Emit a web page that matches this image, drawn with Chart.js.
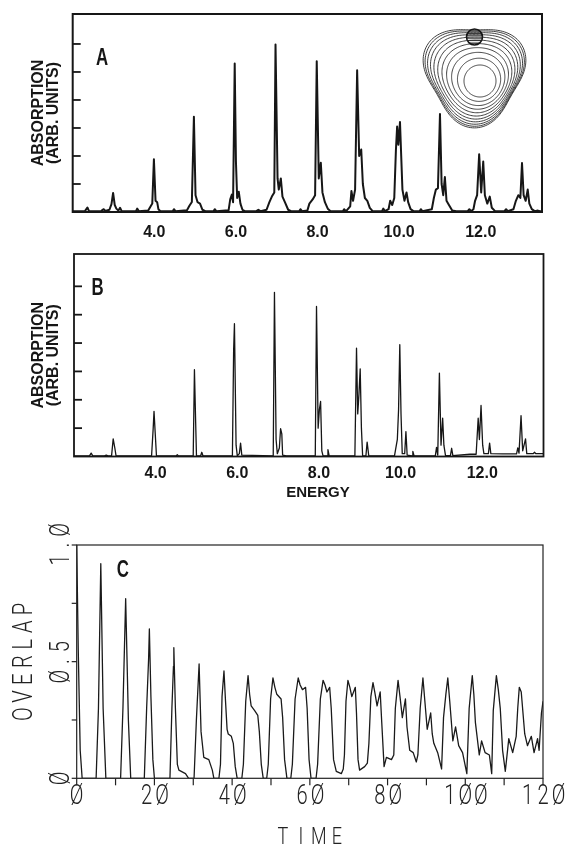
<!DOCTYPE html>
<html><head><meta charset="utf-8">
<script src="https://cdn.jsdelivr.net/npm/chart.js@4.4.0/dist/chart.umd.min.js"></script>
<style>
html,body{margin:0;padding:0;background:#fff;}
#wrap{position:relative;width:570px;height:846px;overflow:hidden;background:#fff;}
canvas{position:absolute;left:0;}
</style></head><body>
<div id="wrap">
<canvas id="cA" width="570" height="250" style="top:0px"></canvas>
<canvas id="cB" width="570" height="255" style="top:250px"></canvas>
<canvas id="cC" width="570" height="341" style="top:505px"></canvas>
</div>
<script>
// ---------- Panel A : absorption spectrum (with inset) ----------
const energyA = [
 2.00,2.30,2.36,2.40,2.70,2.76,2.80,2.90,2.95,2.99,3.03,3.07,3.12,3.16,3.20,
 3.55,3.58,3.62,3.85,3.90,3.95,3.99,4.03,4.07,4.10,4.15,
 4.45,4.48,4.52,4.80,4.86,4.92,4.97,5.01,5.06,5.12,5.18,5.25,
 5.45,5.48,5.52,5.82,5.86,5.90,5.93,5.97,6.00,6.03,6.07,6.11,6.16,6.22,
 6.50,6.55,6.60,6.75,6.82,6.88,6.94,6.97,7.02,7.05,7.10,7.14,7.20,7.28,7.35,
 7.55,7.58,7.62,7.75,7.80,7.88,7.94,7.98,8.03,8.08,8.12,8.18,8.25,8.32,
 8.62,8.65,8.70,8.80,8.83,8.87,8.92,8.97,9.02,9.07,9.11,9.16,9.22,9.28,9.35,
 9.58,9.61,9.65,9.74,9.78,9.83,9.88,9.92,9.95,9.98,10.02,10.05,10.08,10.13,10.18,10.22,10.28,10.35,
 10.50,10.53,10.57,10.80,10.85,10.90,10.95,11.00,11.04,11.08,11.12,11.16,11.22,11.30,11.40,
 11.68,11.72,11.76,11.82,11.86,11.91,11.96,12.01,12.06,12.10,12.16,12.22,12.27,12.35,
 12.58,12.62,12.66,12.80,12.86,12.92,12.97,13.01,13.05,13.10,13.15,13.19,13.25,13.32,13.40,13.45,13.50
];
const absorbA = [
 0.03,0.03,0.16,0.03,0.04,0.10,0.04,0.08,0.28,0.68,0.25,0.12,0.05,0.15,0.03,
 0.03,0.12,0.03,0.05,0.18,0.30,1.88,0.40,0.35,0.10,0.03,
 0.03,0.10,0.03,0.06,0.22,0.36,3.40,0.60,0.35,0.30,0.08,0.03,
 0.03,0.10,0.03,0.06,0.45,0.62,0.35,5.30,1.80,0.50,0.72,0.30,0.08,0.03,
 0.03,0.08,0.03,0.08,0.35,0.55,0.70,5.98,1.20,0.80,1.20,0.55,0.35,0.08,0.03,
 0.03,0.10,0.03,0.05,0.30,0.45,0.60,5.38,1.20,1.76,0.70,0.35,0.12,0.03,
 0.03,0.10,0.03,0.20,0.75,0.40,0.80,5.06,2.00,2.23,1.00,0.50,0.40,0.15,0.03,
 0.03,0.12,0.03,0.10,0.40,0.25,0.50,2.20,3.05,2.40,3.21,2.00,0.80,0.40,0.70,0.35,0.10,0.03,
 0.03,0.10,0.03,0.10,0.50,0.80,0.85,3.50,1.00,0.60,1.25,0.40,0.25,0.05,0.03,
 0.03,0.10,0.03,0.10,0.40,0.60,2.06,0.70,1.80,0.60,0.30,0.55,0.15,0.03,
 0.03,0.10,0.03,0.10,0.40,0.60,0.50,1.75,0.60,0.40,0.80,0.30,0.10,0.03,0.05,0.03,0.03
];

// ---------- Panel B : absorption spectrum ----------
const energyB = [
 2.00,2.38,2.42,2.46,2.75,2.79,2.83,2.92,2.96,3.00,3.03,
 3.90,3.94,3.96,3.99,4.02,4.50,4.53,4.56,
 4.92,4.95,4.98,5.00,5.10,5.13,5.16,
 5.88,5.91,5.93,5.97,6.00,6.05,6.08,6.11,
 6.88,6.91,6.95,6.98,7.03,7.06,7.09,7.11,7.20,
 7.91,7.94,7.98,8.01,8.04,8.07,8.10,8.20,8.22,8.25,
 8.88,8.92,8.95,8.98,9.01,9.04,9.07,9.15,9.18,9.22,
 9.85,9.92,9.95,9.98,10.01,10.04,10.10,10.13,10.16,10.28,10.30,10.33,
 10.85,10.88,10.91,10.95,10.99,11.03,11.06,11.10,11.22,11.25,11.28,
 11.70,11.85,11.90,11.93,11.97,12.01,12.04,12.15,12.18,12.21,12.50,
 12.84,12.87,12.90,12.95,12.99,13.06,13.09,13.25,13.28,13.31,13.50
];
const absorbB = [
 0.02,0.02,0.12,0.02,0.02,0.05,0.02,0.02,0.62,0.30,0.02,
 0.02,1.00,1.59,0.80,0.02,0.02,0.06,0.02,
 0.02,3.06,1.20,0.02,0.02,0.15,0.02,
 0.02,3.74,4.68,0.40,0.02,0.10,0.47,0.05,
 0.02,5.79,0.60,0.10,0.30,0.98,0.80,0.05,0.02,
 0.02,5.29,1.00,1.65,1.94,0.20,0.02,0.02,0.24,0.02,
 0.02,3.82,1.50,2.20,3.09,1.00,0.02,0.02,0.51,0.02,
 0.02,0.60,1.65,3.94,1.50,0.10,0.10,0.88,0.05,0.02,0.18,0.02,
 0.02,0.32,0.05,2.94,0.40,1.35,0.40,0.03,0.03,0.29,0.03,
 0.08,0.08,1.35,0.60,1.80,0.40,0.10,0.10,0.47,0.10,0.09,
 0.09,0.30,0.12,1.44,0.20,0.62,0.10,0.10,0.15,0.10,0.10
];

// ---------- Panel C : overlap vs time ----------
const timeC = [
 0,0.4,0.9,1.4,5.0,5.6,6.2,6.8,7.5,
 11.3,11.9,12.6,13.3,13.9,17.4,18.0,18.5,18.7,19.1,19.6,20.0,
 24.0,24.5,24.9,25.0,25.4,25.9,26.3,28.0,28.8,
 30.2,30.8,31.5,32.0,32.7,34.0,34.9,35.3,
 36.6,37.0,37.4,37.9,38.3,38.7,39.0,39.8,40.3,40.8,41.3,
 42.5,42.9,43.5,44.1,44.5,44.9,45.8,46.6,47.0,47.5,48.0,
 48.9,49.3,49.9,50.5,51.0,51.5,52.6,53.0,53.5,54.1,
 55.1,55.5,56.2,57.0,57.5,58.1,58.9,59.3,59.8,60.3,
 61.6,62.0,62.7,63.4,63.9,64.4,65.1,65.5,66.1,66.8,68.1,68.6,
 68.9,69.3,69.8,70.3,70.8,71.7,72.0,72.4,72.8,74.1,74.8,
 75.2,75.7,76.25,76.7,77.3,78.1,78.5,79.1,79.7,81.0,81.6,
 82.0,82.7,83.2,83.8,84.6,85.0,85.7,86.6,87.4,87.8,
 88.4,89.1,89.6,90.2,91.1,91.5,91.9,92.9,93.9,
 94.4,95.0,95.5,96.0,96.8,97.5,98.3,99.3,100.4,
 101.0,101.8,102.2,102.6,103.6,104.2,105.1,106.2,106.8,
 107.2,108.0,108.5,109.0,109.6,110.3,111.2,112.2,113.1,
 113.5,113.9,114.4,115.3,116.0,117.0,117.7,118.6,119.0,119.6,120.0
];
const overlapC = [
 1.00,0.55,0.12,0,0,0.30,0.92,0.30,0,
 0,0.30,0.77,0.25,0,0,0.30,0.51,0.64,0.35,0.08,0,
 0,0.30,0.48,0.56,0.30,0.06,0.035,0.02,0,
 0,0.25,0.49,0.20,0.09,0.08,0.035,0,
 0,0.06,0.35,0.46,0.33,0.21,0.19,0.18,0.15,0.05,0,
 0,0.06,0.33,0.44,0.36,0.31,0.29,0.27,0.20,0.06,0,
 0,0.06,0.34,0.43,0.39,0.36,0.34,0.26,0.08,0,
 0,0.06,0.34,0.43,0.40,0.38,0.39,0.30,0.08,0,
 0,0.06,0.34,0.42,0.40,0.37,0.39,0.30,0.08,0.03,0.02,0.04,
 0.10,0.33,0.42,0.39,0.35,0.39,0.28,0.08,0.035,0.05,0.065,
 0.15,0.35,0.41,0.37,0.31,0.37,0.24,0.05,0.09,0.08,0.10,
 0.30,0.42,0.35,0.26,0.34,0.22,0.12,0.11,0.07,0.10,
 0.30,0.43,0.33,0.21,0.28,0.19,0.15,0.11,0.04,
 0.26,0.36,0.43,0.33,0.16,0.22,0.14,0.11,0.02,
 0.30,0.44,0.36,0.24,0.10,0.16,0.11,0.10,0.02,
 0.29,0.44,0.38,0.30,0.12,0.03,0.17,0.11,0.18,
 0.30,0.39,0.37,0.19,0.14,0.18,0.11,0.17,0.12,0.28,0.33
];

// ---------- ticks / labels ----------
const energyTickValues = [4, 6, 8, 10, 12];
const energyTickLabels = ['4.0', '6.0', '8.0', '10.0', '12.0'];
const absorbTickValues = [1, 2, 3, 4, 5, 6];
const timeTickValues = [0,10,20,30,40,50,60,70,80,90,100,110,120];
const timeLabelValues = [0, 20, 40, 60, 80, 100, 120];
const timeTickLabels = ['Ø', '2Ø', '4Ø', '6Ø', '8Ø', '1ØØ', '12Ø'];
const overlapTickValues = [0, 0.25, 0.5, 0.75, 1];
const overlapLabelValues = [0, 0.5, 1];
const overlapTickLabels = ['Ø', 'Ø.5', '1.Ø'];
const insetRadii = [49, 47.6, 45.8, 43.6, 41, 38, 34.6, 30.8, 26.6, 21.6, 16];

const INK = '#161616';
const BOLD = '"Liberation Sans", Arial, sans-serif';
const THIN = 'Roboto, "DejaVu Sans", sans-serif';

function txt(ctx, s, x, y, o) {
  ctx.save();
  ctx.translate(x, y);
  if (o.rot) ctx.rotate(o.rot);
  const sx = o.sx || 1;
  ctx.scale(sx, 1);
  ctx.font = o.font;
  ctx.fillStyle = o.color || INK;
  ctx.textAlign = 'center';
  ctx.textBaseline = 'alphabetic';
  const dy = o.cap / 2;
  if (o.adv) {
    const ch = Array.from(s), n = ch.length;
    ch.forEach((c, i) => ctx.fillText(c, ((i - (n - 1) / 2) * o.adv) / sx, dy));
  } else {
    ctx.fillText(s, 0, dy);
  }
  ctx.restore();
}

function spectrumDecor(letter, letterDX, letterDY, labelDY, boxW, withInset, withEnergy) {
  return {
    id: 'decor' + letter,
    afterDraw(chart) {
      const {ctx, chartArea: ca, scales: {x, y}} = chart;
      ctx.save();
      ctx.strokeStyle = INK;
      ctx.lineWidth = boxW;
      ctx.strokeRect(ca.left, ca.top, ca.right - ca.left, ca.bottom - ca.top);
      ctx.lineWidth = 1.8;
      absorbTickValues.forEach(v => {
        const py = y.getPixelForValue(v);
        ctx.beginPath(); ctx.moveTo(ca.left, py); ctx.lineTo(ca.left + 8, py); ctx.stroke();
      });
      energyTickValues.forEach((v, i) => {
        txt(ctx, energyTickLabels[i], x.getPixelForValue(v), ca.bottom + labelDY,
            {font: 'bold 16px ' + BOLD, cap: 11.5});
      });
      const cy = (ca.top + ca.bottom) / 2;
      txt(ctx, 'ABSORPTION', 37, cy, {font: 'bold 16px ' + BOLD, cap: 11.5, rot: -Math.PI / 2});
      txt(ctx, '(ARB. UNITS)', 52.5, cy, {font: 'bold 16px ' + BOLD, cap: 11.5, rot: -Math.PI / 2});
      txt(ctx, letter, ca.left + letterDX, ca.top + letterDY, {font: 'bold 24px ' + BOLD, cap: 17, sx: 0.7});
      if (withEnergy) {
        txt(ctx, 'ENERGY', x.getPixelForValue(8) - 1, ca.bottom + 35, {font: 'bold 15px ' + BOLD, cap: 11});
      }
      if (withInset) {
        const outer = insetRadii[0], inner = insetRadii[insetRadii.length - 1];
        ctx.lineWidth = 0.9;
        ctx.strokeStyle = '#2a2a2a';
        insetRadii.forEach(R => {
          const f = (R - inner) / (outer - inner);
          const a = 0.12 * Math.pow(f, 1.6);
          const cx = ca.right - 62 - 5.5 * f;
          const cyy = ca.top + 67 - 8 * f;
          ctx.beginPath();
          for (let k = 0; k <= 180; k++) {
            const th = (k / 180) * Math.PI * 2;
            const r = R * (1 + a * Math.cos(3 * (th - Math.PI / 2)));
            const px = cx + r * Math.cos(th), py = cyy + r * Math.sin(th);
            if (k === 0) ctx.moveTo(px, py); else ctx.lineTo(px, py);
          }
          ctx.closePath();
          ctx.stroke();
        });
        const ccx = ca.right - 67.5, ccy = ca.top + 23, cr = 8;
        ctx.lineWidth = 1.0;
        for (let d = -6; d <= 6; d += 2.4) {
          const hw = Math.sqrt(cr * cr - d * d);
          ctx.beginPath(); ctx.moveTo(ccx - hw, ccy + d); ctx.lineTo(ccx + hw, ccy + d); ctx.stroke();
        }
        ctx.lineWidth = 1.6;
        ctx.strokeStyle = INK;
        ctx.beginPath();
        ctx.arc(ccx, ccy, cr, 0, Math.PI * 2);
        ctx.stroke();
      }
      ctx.restore();
    }
  };
}

function spectrumChart(id, ex, ab, ymax, padTop, yW, padR, xH, lw, decor) {
  return new Chart(document.getElementById(id), {
    type: 'line',
    data: {datasets: [{
      data: ex.map((e, i) => ({x: e, y: ab[i]})),
      borderColor: INK, borderWidth: lw, pointRadius: 0, tension: 0,
      borderJoinStyle: 'round', borderCapStyle: 'round', fill: false
    }]},
    options: {
      responsive: false, animation: false, events: [],
      layout: {autoPadding: false, padding: {left: 0, right: padR, top: padTop, bottom: 0}},
      plugins: {legend: {display: false}, tooltip: {enabled: false}, title: {display: false}},
      scales: {
        x: {type: 'linear', min: 2, max: 13.5, grid: {display: false}, border: {display: false},
            ticks: {display: false}, afterFit: s => { s.height = xH; }},
        y: {type: 'linear', min: 0, max: ymax, grid: {display: false}, border: {display: false},
            ticks: {display: false}, afterFit: s => { s.width = yW; }}
      }
    },
    plugins: [decor]
  });
}

spectrumChart('cA', energyA, absorbA, 7.07, 14, 72.7, 28, 38, 2.0,
  spectrumDecor('A', 29.3, 42, 19, 2.0, true, false));
spectrumChart('cB', energyB, absorbB, 7.14, 4, 74, 26.5, 48.5, 1.3,
  spectrumDecor('B', 23.6, 32, 16, 1.8, false, true));

// ---------- Panel C ----------
const decorC = {
  id: 'decorC',
  afterDraw(chart) {
    const {ctx, chartArea: ca, scales: {x, y}} = chart;
    ctx.save();
    ctx.strokeStyle = '#222';
    ctx.lineWidth = 1.2;
    ctx.strokeRect(ca.left, ca.top, ca.right - ca.left, ca.bottom - ca.top);
    timeTickValues.forEach(v => {
      const px = x.getPixelForValue(v);
      ctx.beginPath(); ctx.moveTo(px, ca.bottom); ctx.lineTo(px, ca.bottom + 7); ctx.stroke();
    });
    overlapTickValues.forEach(v => {
      const py = y.getPixelForValue(v);
      ctx.beginPath(); ctx.moveTo(ca.left - 5, py); ctx.lineTo(ca.left, py); ctx.stroke();
    });
    const f = '300 28px ' + THIN;
    timeLabelValues.forEach((v, i) => {
      txt(ctx, timeTickLabels[i], x.getPixelForValue(v), ca.bottom + 16, {font: f, cap: 20, sx: 0.72, adv: 15.5, color: '#222'});
    });
    overlapLabelValues.forEach((v, i) => {
      txt(ctx, overlapTickLabels[i], 59, y.getPixelForValue(v), {font: f, cap: 20, sx: 0.72, adv: 15, rot: -Math.PI / 2, color: '#222'});
    });
    txt(ctx, 'OVERLAP', 22, (ca.top + ca.bottom) / 2, {font: f, cap: 20, sx: 0.72, adv: 17.5, rot: -Math.PI / 2, color: '#222'});
    txt(ctx, 'TIME', (ca.left + ca.right) / 2, ca.bottom + 57, {font: '300 24px ' + THIN, cap: 17, sx: 0.75, adv: 18, color: '#222'});
    txt(ctx, 'C', ca.left + 46, ca.top + 23, {font: 'bold 24px ' + BOLD, cap: 17, sx: 0.7});
    ctx.restore();
  }
};

new Chart(document.getElementById('cC'), {
  type: 'line',
  data: {datasets: [{
    data: timeC.map((t, i) => ({x: t, y: overlapC[i]})),
    borderColor: '#1a1a1a', borderWidth: 1.3, pointRadius: 0, tension: 0,
    borderJoinStyle: 'round', fill: false
  }]},
  options: {
    responsive: false, animation: false, events: [],
    layout: {autoPadding: false, padding: {left: 0, right: 27, top: 40, bottom: 0}},
    plugins: {legend: {display: false}, tooltip: {enabled: false}},
    scales: {
      x: {type: 'linear', min: 0, max: 120, grid: {display: false}, border: {display: false},
          ticks: {display: false}, afterFit: s => { s.height = 67.7; }},
      y: {type: 'linear', min: 0, max: 1, grid: {display: false}, border: {display: false},
          ticks: {display: false}, afterFit: s => { s.width = 76.7; }}
    }
  },
  plugins: [decorC]
});
</script>
</body></html>
